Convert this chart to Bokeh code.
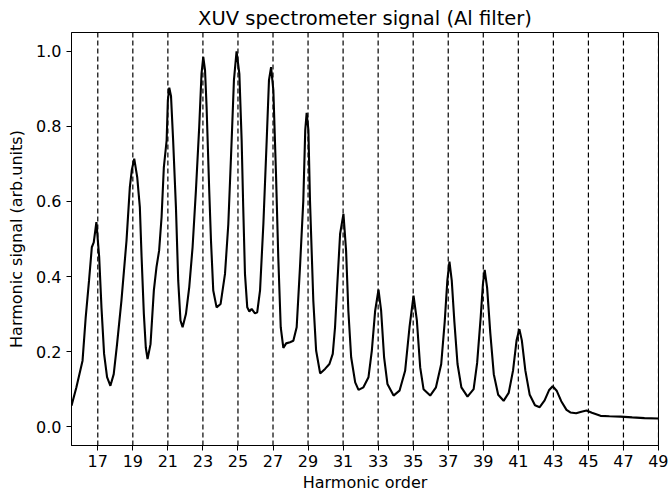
from bokeh.plotting import figure
from bokeh.models import Range1d, FixedTicker, PrintfTickFormatter, Span
from bokeh.embed import file_html
from bokeh.resources import INLINE

# Harmonic order (x) and signal (y)
harmonic = [
    15.50, 15.78, 16.13, 16.31, 16.50, 16.66, 16.77, 16.92, 17.08, 17.21,
    17.36, 17.53, 17.72, 17.91, 18.10, 18.35, 18.64, 18.83, 18.94, 19.08,
    19.25, 19.40, 19.50, 19.63, 19.74, 19.84, 20.01, 20.20, 20.35, 20.50,
    20.64, 20.77, 20.93, 21.00, 21.08, 21.18, 21.30, 21.46, 21.59, 21.72,
    21.84, 22.03, 22.22, 22.41, 22.60, 22.79, 22.92, 23.02, 23.12, 23.21,
    23.36, 23.46, 23.59, 23.78, 24.01, 24.26, 24.45, 24.64, 24.77, 24.92,
    25.08, 25.21, 25.30, 25.40, 25.53, 25.65, 25.78, 25.97, 26.10, 26.26,
    26.45, 26.64, 26.77, 26.89, 27.02, 27.17, 27.30, 27.44, 27.59, 27.75,
    27.97, 28.16, 28.35, 28.54, 28.73, 28.84, 28.92, 29.02, 29.11, 29.30,
    29.46, 29.69, 29.97, 30.22, 30.41, 30.54, 30.67, 30.83, 31.02, 31.17,
    31.30, 31.46, 31.69, 31.88, 32.16, 32.45, 32.64, 32.83, 33.02, 33.17,
    33.34, 33.53, 33.88, 34.22, 34.54, 34.79, 35.02, 35.21, 35.40, 35.59,
    35.97, 36.30, 36.60, 36.80, 36.95, 37.07, 37.20, 37.35, 37.53, 37.75,
    38.10, 38.45, 38.65, 38.85, 38.98, 39.08, 39.22, 39.40, 39.60, 39.85,
    40.16, 40.45, 40.70, 40.90, 41.06, 41.20, 41.40, 41.65, 41.95, 42.22,
    42.50, 42.75, 42.96, 43.20, 43.45, 43.75, 43.97, 44.30, 44.60, 44.89,
    45.20, 45.69, 46.20, 46.83, 47.50, 48.20, 48.98,
]
signal = [
    0.056, 0.105, 0.176, 0.291, 0.389, 0.478, 0.491, 0.545, 0.452, 0.318,
    0.194, 0.132, 0.109, 0.140, 0.220, 0.336, 0.496, 0.638, 0.683, 0.714,
    0.665, 0.585, 0.452, 0.300, 0.211, 0.180, 0.220, 0.363, 0.425, 0.469,
    0.558, 0.691, 0.763, 0.870, 0.903, 0.880, 0.763, 0.585, 0.389, 0.283,
    0.265, 0.300, 0.372, 0.478, 0.629, 0.800, 0.940, 0.985, 0.950, 0.851,
    0.629, 0.496, 0.363, 0.318, 0.327, 0.407, 0.540, 0.763, 0.923, 1.000,
    0.940, 0.763, 0.585, 0.407, 0.318, 0.307, 0.314, 0.302, 0.305, 0.363,
    0.540, 0.763, 0.923, 0.958, 0.896, 0.674, 0.452, 0.265, 0.210, 0.222,
    0.225, 0.229, 0.265, 0.425, 0.603, 0.790, 0.836, 0.790, 0.603, 0.336,
    0.203, 0.142, 0.154, 0.167, 0.194, 0.265, 0.380, 0.514, 0.567, 0.469,
    0.309, 0.185, 0.118, 0.098, 0.105, 0.132, 0.203, 0.309, 0.365, 0.309,
    0.185, 0.114, 0.083, 0.096, 0.149, 0.265, 0.349, 0.283, 0.158, 0.100,
    0.083, 0.105, 0.167, 0.280, 0.390, 0.440, 0.390, 0.280, 0.167, 0.105,
    0.080, 0.100, 0.170, 0.290, 0.380, 0.418, 0.370, 0.250, 0.140, 0.085,
    0.069, 0.090, 0.150, 0.230, 0.260, 0.230, 0.150, 0.085, 0.057, 0.052,
    0.070, 0.097, 0.108, 0.095, 0.068, 0.045, 0.038, 0.036, 0.040, 0.043,
    0.037, 0.029, 0.028, 0.027, 0.025, 0.023, 0.022,
]
odd_orders = list(range(17, 50, 2))
y_ticks = [0.0, 0.2, 0.4, 0.6, 0.8, 1.0]

FONT = "DejaVu Sans"

p = figure(
    width=668, height=497,
    x_range=Range1d(15.5, 49), y_range=Range1d(-0.05, 1.05),
    output_backend="svg", toolbar_location=None,
    min_border_left=71, min_border_right=10,
    min_border_top=32, min_border_bottom=52,
    title="XUV spectrometer signal (Al filter)",
)
p.title.align = "center"
p.title.text_font = FONT
p.title.text_font_style = "normal"
p.title.text_font_size = "19.5px"
p.title.text_color = "black"
p.title.offset = 0
p.title.standoff = 5

p.grid.visible = False
p.outline_line_color = "black"
p.outline_line_width = 1
p.outline_line_alpha = 1
p.background_fill_color = "white"
p.border_fill_color = "white"

p.line(harmonic, signal, line_color="black", line_width=2.1)

for h in odd_orders:
    p.add_layout(Span(location=h, dimension="height", line_color="black",
                      line_width=1.2, line_dash="5 3"))

for ax in (p.xaxis[0], p.yaxis[0]):
    ax.axis_line_color = "black"
    ax.major_tick_line_color = "black"
    ax.major_tick_in = 0
    ax.major_tick_out = 5
    ax.minor_tick_line_color = None
    ax.major_label_text_font = FONT
    ax.major_label_text_font_size = "16px"
    ax.major_label_text_color = "black"
    ax.axis_label_text_font = FONT
    ax.axis_label_text_font_size = "16px"
    ax.axis_label_text_font_style = "normal"
    ax.axis_label_text_color = "black"

p.xaxis.ticker = FixedTicker(ticks=odd_orders)
p.xaxis.axis_label = "Harmonic order"
p.xaxis.major_label_standoff = 4
p.xaxis.axis_label_standoff = 3

p.yaxis.ticker = FixedTicker(ticks=y_ticks)
p.yaxis.formatter = PrintfTickFormatter(format="%.1f")
p.yaxis.axis_label = "Harmonic signal (arb.units)"
p.yaxis.major_label_standoff = 5
p.yaxis.axis_label_standoff = 7

open("out.html", "w").write(file_html(p, INLINE))
